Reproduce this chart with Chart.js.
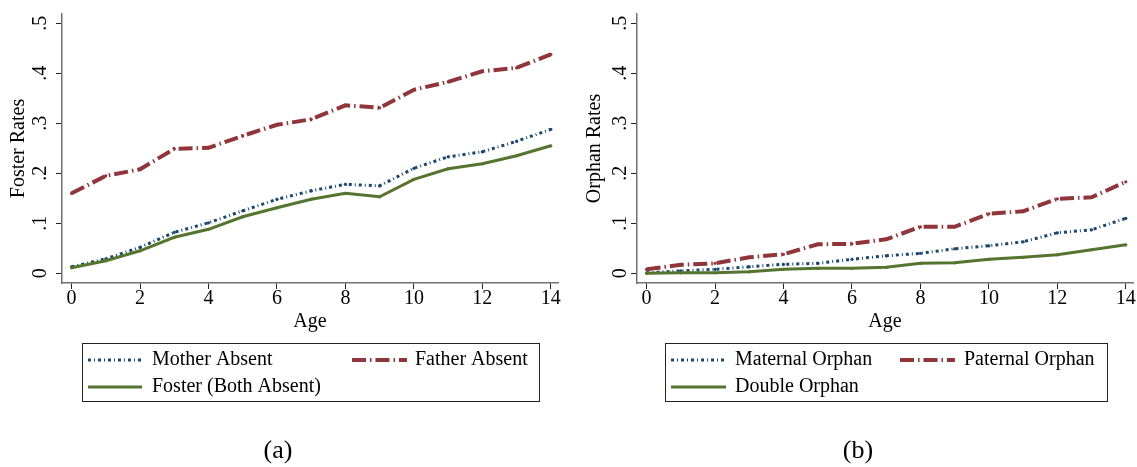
<!DOCTYPE html>
<html>
<head>
<meta charset="utf-8">
<script src="https://cdn.jsdelivr.net/npm/chart.js@4.4.1/dist/chart.umd.min.js"></script>
<style>
html, body { margin: 0; padding: 0; background: #fff; }
#wrap { position: relative; width: 1137px; height: 467px; }
canvas { position: absolute; top: 0; }
#chart-a { left: 0; }
#chart-b { left: 575px; }
</style>
</head>
<body>
<div id="wrap">
    <canvas id="chart-a" width="575" height="467"></canvas>
    <canvas id="chart-b" width="562" height="467"></canvas>
</div>
<script>
const ages = [0, 1, 2, 3, 4, 5, 6, 7, 8, 9, 10, 11, 12, 13, 14];

// panel (a): foster rates
const motherAbsent = [0.013, 0.029, 0.052, 0.082, 0.101, 0.125, 0.148, 0.165, 0.178, 0.175, 0.21, 0.233, 0.243, 0.264, 0.288];
const fatherAbsent = [0.16, 0.195, 0.208, 0.249, 0.251, 0.275, 0.297, 0.308, 0.336, 0.331, 0.367, 0.383, 0.404, 0.411, 0.438];
const fosterBoth = [0.011, 0.025, 0.045, 0.072, 0.088, 0.113, 0.131, 0.148, 0.16, 0.153, 0.188, 0.209, 0.219, 0.235, 0.255];

// panel (b): orphan rates
const maternalOrphan = [0.001, 0.005, 0.008, 0.013, 0.018, 0.02, 0.028, 0.035, 0.04, 0.049, 0.055, 0.063, 0.081, 0.087, 0.11];
const paternalOrphan = [0.008, 0.017, 0.02, 0.032, 0.038, 0.058, 0.059, 0.068, 0.093, 0.093, 0.119, 0.124, 0.149, 0.152, 0.183];
const doubleOrphan = [0, 0.001, 0.001, 0.003, 0.008, 0.01, 0.01, 0.012, 0.02, 0.021, 0.028, 0.032, 0.037, 0.047, 0.057];

const xTicks = [0, 2, 4, 6, 8, 10, 12, 14];
const yTicks = [0, 0.1, 0.2, 0.3, 0.4, 0.5];
const yTickLabels = ['0', '.1', '.2', '.3', '.4', '.5'];

const FONT = "'Liberation Serif', 'Times New Roman', serif";
const NAVY = '#1a476f';
const MAROON = '#90353b';
const GREEN = '#55752f';

function series(label, values, color, dash, width, order) {
    return {
        label,
        data: ages.map((a, i) => ({ x: a, y: values[i] })),
        borderColor: color,
        backgroundColor: color,
        borderWidth: width,
        borderDash: dash,
        borderCapStyle: 'butt',
        pointRadius: 1.6,
        pointHoverRadius: 1.6,
        pointBorderWidth: 0,
        pointBackgroundColor: color,
        tension: 0,
        fill: false,
        order,
    };
}

// rotated y tick labels, boxed legend and panel caption
const panelDecor = {
    id: 'panelDecor',
    afterDraw(chart, args, opts) {
        const ctx = chart.ctx;
        const yScale = chart.scales.y;
        ctx.save();
        ctx.fillStyle = '#000';
        ctx.font = `20px ${FONT}`;
        ctx.textBaseline = 'middle';
        yTicks.forEach((v, i) => {
            const py = yScale.getPixelForValue(v);
            ctx.save();
            ctx.translate(opts.yLabelX, py);
            ctx.rotate(-Math.PI / 2);
            ctx.textAlign = 'center';
            ctx.fillText(yTickLabels[i], 0, 0);
            ctx.restore();
        });

        const b = opts.box;
        ctx.strokeStyle = '#222';
        ctx.lineWidth = 1;
        ctx.setLineDash([]);
        ctx.strokeRect(b.x + 0.5, b.y + 0.5, b.w, b.h);
        opts.items.forEach((it) => {
            const ds = chart.data.datasets[it.ds];
            ctx.save();
            ctx.strokeStyle = ds.borderColor;
            ctx.lineWidth = ds.borderWidth;
            ctx.lineCap = 'butt';
            ctx.setLineDash(ds.borderDash || []);
            ctx.beginPath();
            ctx.moveTo(it.x1, it.y);
            ctx.lineTo(it.x2, it.y);
            ctx.stroke();
            ctx.restore();
            ctx.textAlign = 'left';
            ctx.fillText(ds.label, it.tx, it.y);
        });

        ctx.font = `26px ${FONT}`;
        ctx.textAlign = 'center';
        ctx.fillText(opts.caption, opts.captionX, opts.captionY);
        ctx.restore();
    },
};

function makePanel(id, width, yTitle, titlePad, datasets, decor) {
    const canvas = document.getElementById(id);
    const axisGrid = { drawOnChartArea: false, drawTicks: true, tickLength: 6, color: '#222', lineWidth: 1 };
    const axisBorder = { display: true, color: '#707070', width: 1.5 };
    new Chart(canvas.getContext('2d'), {
        type: 'line',
        data: { datasets },
        plugins: [panelDecor],
        options: {
            responsive: false,
            animation: false,
            devicePixelRatio: 1,
            layout: { padding: { left: 0, top: 14, right: width - 558, bottom: 467 - 335 } },
            plugins: {
                legend: { display: false },
                tooltip: { enabled: false },
                panelDecor: decor,
            },
            scales: {
                x: {
                    type: 'linear',
                    position: 'bottom',
                    min: -0.28,
                    max: 14.21,
                    afterBuildTicks: (s) => { s.ticks = xTicks.map((v) => ({ value: v })); },
                    afterFit: (s) => { s.height = 52; },
                    grid: axisGrid,
                    border: axisBorder,
                    ticks: {
                        color: '#000',
                        font: { family: FONT, size: 20, lineHeight: 1 },
                        padding: 0,
                        maxRotation: 0,
                        autoSkip: false,
                    },
                    title: {
                        display: true,
                        text: 'Age',
                        color: '#000',
                        font: { family: FONT, size: 20, lineHeight: 1.2 },
                        padding: { top: 0, bottom: 1 },
                    },
                },
                y: {
                    type: 'linear',
                    position: 'left',
                    min: -0.0194,
                    max: 0.5186,
                    afterBuildTicks: (s) => { s.ticks = yTicks.map((v) => ({ value: v })); },
                    afterFit: (s) => { s.width = 62; },
                    grid: axisGrid,
                    border: axisBorder,
                    ticks: { display: false },
                    title: {
                        display: true,
                        text: yTitle,
                        color: '#000',
                        font: { family: FONT, size: 20, lineHeight: 1.2 },
                        padding: { top: titlePad, bottom: 0 },
                    },
                },
            },
        },
    });
}

makePanel('chart-a', 575, 'Foster Rates', 7, [
    series('Mother Absent', motherAbsent, NAVY, [3, 3, 1, 3], 3, 3),
    series('Father Absent', fatherAbsent, MAROON, [14, 4, 1.5, 4], 4, 2),
    series('Foster (Both Absent)', fosterBoth, GREEN, [], 3, 1),
], {
    yLabelX: 41,
    box: { x: 82, y: 343, w: 457, h: 58 },
    items: [
        { ds: 0, x1: 88, x2: 142, y: 360, tx: 152 },
        { ds: 1, x1: 352, x2: 407, y: 360, tx: 415 },
        { ds: 2, x1: 88, x2: 142, y: 387, tx: 152 },
    ],
    caption: '(a)',
    captionX: 278,
    captionY: 451,
});

makePanel('chart-b', 562, 'Orphan Rates', 8, [
    series('Maternal Orphan', maternalOrphan, NAVY, [3, 3, 1, 3], 3, 3),
    series('Paternal Orphan', paternalOrphan, MAROON, [14, 4, 1.5, 4], 4, 2),
    series('Double Orphan', doubleOrphan, GREEN, [], 3, 1),
], {
    yLabelX: 46,
    box: { x: 90, y: 343, w: 442, h: 58 },
    items: [
        { ds: 0, x1: 96, x2: 151, y: 360, tx: 160 },
        { ds: 1, x1: 325, x2: 380, y: 360, tx: 389 },
        { ds: 2, x1: 96, x2: 151, y: 387, tx: 160 },
    ],
    caption: '(b)',
    captionX: 283,
    captionY: 451,
});
</script>
</body>
</html>
